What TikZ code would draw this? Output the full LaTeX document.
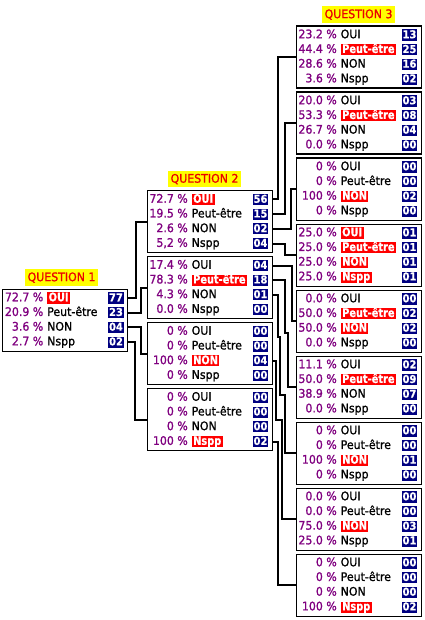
\documentclass[tikz,border=0pt]{standalone}
\usepackage{fontspec}
\setmainfont{DejaVu Sans}[FakeStretch=0.93, FakeBold=1.2]
\newfontfamily\lblfont{DejaVu Sans}[FakeStretch=0.83, FakeBold=0.6]
\newfontfamily\numfont{DejaVu Sans}[FakeStretch=0.92, FakeBold=0.6]
\usetikzlibrary{calc}
\definecolor{pctpurple}{RGB}{128,0,128}
\definecolor{hlred}{RGB}{255,0,0}
\definecolor{numnavy}{RGB}{0,0,128}
\definecolor{titleyellow}{RGB}{255,255,0}
\definecolor{titlered}{RGB}{235,0,0}
\newcommand\qsize{\fontsize{11.8}{13}\selectfont}
\newcommand\qrow[6]{%
  \pgfmathsetmacro\qry{9.5+14.7*(#2-1)}%
  \node[pct] (#1p#2) at ($(#1.north west)+(41.5,\qry)$) {#3};
  \node[#5] (#1l#2) at ($(#1.north west)+(45,\qry)$) {#4};
  \node[num] (#1n#2) at ($(#1.north east)+(-4,\qry)$) {#6};
}
\tikzset{
  qbox/.style={draw=black, line width=1.1pt, minimum width=125pt, minimum height=62pt, inner sep=0pt, anchor=north west},
  pct/.style={text=pctpurple, anchor=east, inner sep=0pt, text height=8.5pt, text depth=2pt, font=\qsize},
  lbl/.style={text=black, anchor=west, inner sep=0pt, text height=8.5pt, text depth=2pt, font=\qsize},
  hl/.style={anchor=west, fill=hlred, text=white, inner xsep=1.5pt, inner ysep=0.3pt, text height=8.5pt, text depth=2pt, font=\qsize\lblfont\bfseries},
  num/.style={anchor=east, fill=numnavy, text=white, inner xsep=1pt, inner ysep=0.3pt, text height=8.5pt, text depth=2pt, font=\fontsize{10.8}{12}\selectfont\numfont\bfseries},
  qtitle/.style={anchor=south, fill=titleyellow, text=titlered, inner xsep=3pt, inner ysep=0pt, minimum height=16.5pt, font=\qsize},
  link/.style={line width=2pt, line join=miter}
}
\begin{document}
\begin{tikzpicture}[x=1pt, y=-1pt]
\fill[white] (0,0) rectangle (424,620);
\useasboundingbox (0,0) rectangle (424,620);

% boxes
\node[qbox] (q1) at (2,288.5) {};
\node[qbox] (q2a) at (146.5,190) {};
\node[qbox] (q2b) at (146.5,256) {};
\node[qbox] (q2c) at (146.5,322) {};
\node[qbox] (q2d) at (146.5,388) {};
\node[qbox] (q3a) at (295.5,25.5) {};
\node[qbox] (q3b) at (295.5,91.5) {};
\node[qbox] (q3c) at (295.5,157.5) {};
\node[qbox] (q3d) at (295.5,223.5) {};
\node[qbox] (q3e) at (295.5,289.5) {};
\node[qbox] (q3f) at (295.5,355.5) {};
\node[qbox] (q3g) at (295.5,421.5) {};
\node[qbox] (q3h) at (295.5,487.5) {};
\node[qbox] (q3i) at (295.5,553.5) {};

% titles
\node[qtitle] (t1) at ($(q1.north)+(-3.5,-2.5)$) {QUESTION 1};
\node[qtitle] (t2) at ($(q2a.north)+(-5,-2.5)$) {QUESTION 2};
\node[qtitle] (t3) at ($(q3a.north)+(0,-2.5)$) {QUESTION 3};

% rows
\qrow{q1}{1}{72.7 \%}{OUI}{hl}{77}
\qrow{q1}{2}{20.9 \%}{Peut-être}{lbl}{23}
\qrow{q1}{3}{3.6 \%}{NON}{lbl}{04}
\qrow{q1}{4}{2.7 \%}{Nspp}{lbl}{02}

\qrow{q2a}{1}{72.7 \%}{OUI}{hl}{56}
\qrow{q2a}{2}{19.5 \%}{Peut-être}{lbl}{15}
\qrow{q2a}{3}{2.6 \%}{NON}{lbl}{02}
\qrow{q2a}{4}{5,2 \%}{Nspp}{lbl}{04}

\qrow{q2b}{1}{17.4 \%}{OUI}{lbl}{04}
\qrow{q2b}{2}{78.3 \%}{Peut-être}{hl}{18}
\qrow{q2b}{3}{4.3 \%}{NON}{lbl}{01}
\qrow{q2b}{4}{0.0 \%}{Nspp}{lbl}{00}

\qrow{q2c}{1}{0 \%}{OUI}{lbl}{00}
\qrow{q2c}{2}{0 \%}{Peut-être}{lbl}{00}
\qrow{q2c}{3}{100 \%}{NON}{hl}{04}
\qrow{q2c}{4}{0 \%}{Nspp}{lbl}{00}

\qrow{q2d}{1}{0 \%}{OUI}{lbl}{00}
\qrow{q2d}{2}{0 \%}{Peut-être}{lbl}{00}
\qrow{q2d}{3}{0 \%}{NON}{lbl}{00}
\qrow{q2d}{4}{100 \%}{Nspp}{hl}{02}

\qrow{q3a}{1}{23.2 \%}{OUI}{lbl}{13}
\qrow{q3a}{2}{44.4 \%}{Peut-être}{hl}{25}
\qrow{q3a}{3}{28.6 \%}{NON}{lbl}{16}
\qrow{q3a}{4}{3.6 \%}{Nspp}{lbl}{02}

\qrow{q3b}{1}{20.0 \%}{OUI}{lbl}{03}
\qrow{q3b}{2}{53.3 \%}{Peut-être}{hl}{08}
\qrow{q3b}{3}{26.7 \%}{NON}{lbl}{04}
\qrow{q3b}{4}{0.0 \%}{Nspp}{lbl}{00}

\qrow{q3c}{1}{0 \%}{OUI}{lbl}{00}
\qrow{q3c}{2}{0 \%}{Peut-être}{lbl}{00}
\qrow{q3c}{3}{100 \%}{NON}{hl}{02}
\qrow{q3c}{4}{0 \%}{Nspp}{lbl}{00}

\qrow{q3d}{1}{25.0 \%}{OUI}{hl}{01}
\qrow{q3d}{2}{25.0 \%}{Peut-être}{hl}{01}
\qrow{q3d}{3}{25.0 \%}{NON}{hl}{01}
\qrow{q3d}{4}{25.0 \%}{Nspp}{hl}{01}

\qrow{q3e}{1}{0.0 \%}{OUI}{lbl}{00}
\qrow{q3e}{2}{50.0 \%}{Peut-être}{hl}{02}
\qrow{q3e}{3}{50.0 \%}{NON}{hl}{02}
\qrow{q3e}{4}{0.0 \%}{Nspp}{lbl}{00}

\qrow{q3f}{1}{11.1 \%}{OUI}{lbl}{02}
\qrow{q3f}{2}{50.0 \%}{Peut-être}{hl}{09}
\qrow{q3f}{3}{38.9 \%}{NON}{lbl}{07}
\qrow{q3f}{4}{0.0 \%}{Nspp}{lbl}{00}

\qrow{q3g}{1}{0 \%}{OUI}{lbl}{00}
\qrow{q3g}{2}{0 \%}{Peut-être}{lbl}{00}
\qrow{q3g}{3}{100 \%}{NON}{hl}{01}
\qrow{q3g}{4}{0 \%}{Nspp}{lbl}{00}

\qrow{q3h}{1}{0.0 \%}{OUI}{lbl}{00}
\qrow{q3h}{2}{0.0 \%}{Peut-être}{lbl}{00}
\qrow{q3h}{3}{75.0 \%}{NON}{hl}{03}
\qrow{q3h}{4}{25.0 \%}{Nspp}{lbl}{01}

\qrow{q3i}{1}{0 \%}{OUI}{lbl}{00}
\qrow{q3i}{2}{0 \%}{Peut-être}{lbl}{00}
\qrow{q3i}{3}{0 \%}{NON}{lbl}{00}
\qrow{q3i}{4}{100 \%}{Nspp}{hl}{02}

% connectors Q1 -> Q2
\draw[link] (q1.east |- q1n1) -- ++(8,0) |- (q2a.west);
\draw[link] (q1.east |- q1n2) -- ++(13,0) |- (q2b.west);
\draw[link] (q1.east |- q1n3) -- ++(13,0) |- (q2c.west);
\draw[link] (q1.east |- q1n4) -- ++(7,0) |- (q2d.west);

% connectors Q2 -> Q3
\draw[link] (q2a.east |- q2an1) -- ++(5.5,0) |- (q3a.west);
\draw[link] (q2a.east |- q2an2) -- ++(12.5,0) |- (q3b.west);
\draw[link] (q2a.east |- q2an3) -- ++(18.5,0) |- (q3c.west);
\draw[link] (q2a.east |- q2an4) -- ++(12.5,0) |- (q3d.west);
\draw[link] (q2b.east |- q2bn1) -- ++(19.5,0) |- (q3e.west);
\draw[link] (q2b.east |- q2bn2) -- ++(12.5,0) |- (288,333) |- (q3f.west);
\draw[link] (q2b.east |- q2bn3) -- ++(5.5,0) |- (280,337) |- (285,395) |- (q3g.west);
\draw[link] (q2c.east |- q2cn3) -- ++(3.5,0) |- (282,420) |- (q3h.west);
\draw[link] (q2d.east |- q2dn4) -- ++(5.5,0) |- (q3i.west);
\end{tikzpicture}
\end{document}
